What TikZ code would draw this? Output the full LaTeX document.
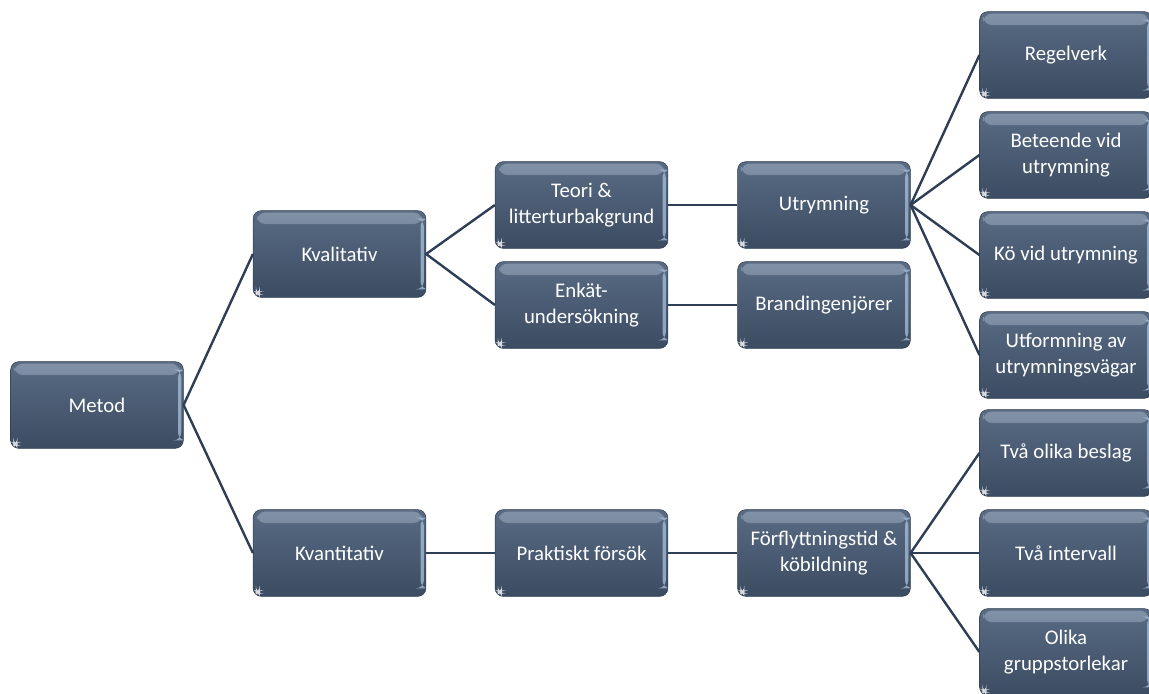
\documentclass[tikz,border=0pt]{standalone}
\usepackage{fontspec}
\setmainfont{Carlito}
\definecolor{boxtop}{HTML}{596C84}
\definecolor{boxbot}{HTML}{3B4B62}
\definecolor{bevel}{HTML}{8797AB}
\definecolor{edgehi}{HTML}{A9C1DA}
\definecolor{linec}{HTML}{2E3E54}
\begin{document}
\begin{tikzpicture}[x=0.75pt,y=-0.75pt,
  box/.style={rectangle, rounded corners=6pt, minimum width=129.5pt, minimum height=65pt,
    inner sep=2pt, top color=boxtop, bottom color=boxbot, draw=boxbot!80!black, line width=0.4pt,
    text=white, align=center, font=\fontsize{15.6}{19}\selectfont,
    path picture={
      \shade[top color=bevel, bottom color=boxtop, opacity=0.9]
        ([xshift=3pt,yshift=-1.5pt]path picture bounding box.north west) rectangle
        ([xshift=-3pt,yshift=-10pt]path picture bounding box.north east);
      \fill[edgehi, opacity=0.75]
        ([xshift=-4pt,yshift=-6pt]path picture bounding box.north east) rectangle
        ([xshift=-1.5pt,yshift=6pt]path picture bounding box.south east);
      \fill[white, opacity=0.8]
        ([xshift=2pt,yshift=2pt]path picture bounding box.south west) rectangle
        ([xshift=5pt,yshift=4.5pt]path picture bounding box.south west);
    }},
  conn/.style={draw=linec, line width=1.8pt}]
\useasboundingbox (0,0) rectangle (1149,693);

\node[box] (metod) at (97,405) {Metod};
\node[box] (kval) at (339.5,254) {Kvalitativ};
\node[box] (kvant) at (339.5,553) {Kvantitativ};
\node[box] (teori) at (581.5,205) {Teori \&\\litterturbakgrund};
\node[box] (enkat) at (581.5,305) {Enkät-\\undersökning};
\node[box] (prakt) at (581.5,553) {Praktiskt försök};
\node[box] (utr) at (824,205) {Utrymning};
\node[box] (brand) at (824,305) {Brandingenjörer};
\node[box] (forf) at (824,553) {Förflyttningstid \&\\köbildning};
\node[box] (regel) at (1066,55) {Regelverk};
\node[box] (betee) at (1066,155) {Beteende vid\\utrymning};
\node[box] (ko) at (1066,255) {Kö vid utrymning};
\node[box] (utf) at (1066,355) {Utformning av\\utrymningsvägar};
\node[box] (besl) at (1066,453) {Två olika beslag};
\node[box] (interv) at (1066,553) {Två intervall};
\node[box] (grupp) at (1066,652) {Olika\\gruppstorlekar};

\draw[conn] (metod.east) -- (kval.west);
\draw[conn] (metod.east) -- (kvant.west);
\draw[conn] (kval.east) -- (teori.west);
\draw[conn] (kval.east) -- (enkat.west);
\draw[conn] (teori.east) -- (utr.west);
\draw[conn] (enkat.east) -- (brand.west);
\draw[conn] (kvant.east) -- (prakt.west);
\draw[conn] (prakt.east) -- (forf.west);
\draw[conn] (utr.east) -- (regel.west);
\draw[conn] (utr.east) -- (betee.west);
\draw[conn] (utr.east) -- (ko.west);
\draw[conn] (utr.east) -- (utf.west);
\draw[conn] (forf.east) -- (besl.west);
\draw[conn] (forf.east) -- (interv.west);
\draw[conn] (forf.east) -- (grupp.west);
\end{tikzpicture}
\end{document}
